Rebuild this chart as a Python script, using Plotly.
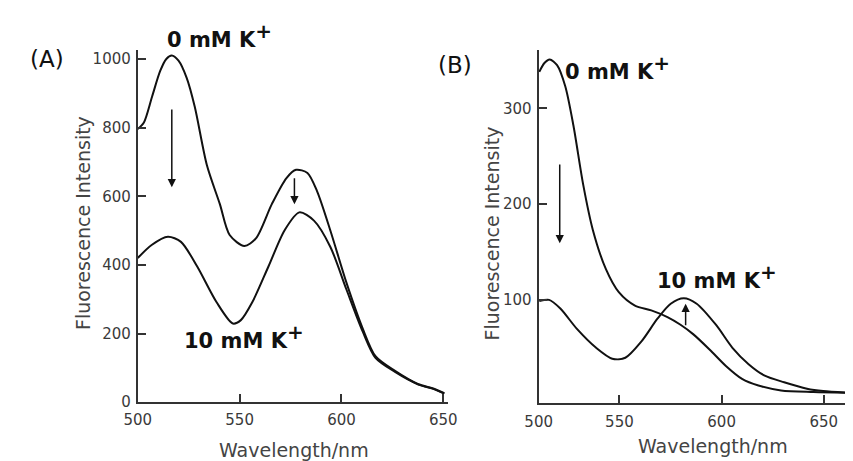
import plotly.graph_objects as go

W, H = 853, 461

# ---------------- Panel A data ----------------
a_wl_0 = [500, 503, 507, 511, 514, 516.7, 520, 524, 528, 533.9, 540.3, 545.1, 552.3, 558, 565.8,
          573, 577.7, 583.3, 588, 594.5, 602.4, 610.4, 616.7, 626.3, 637.5, 645.4, 650.5]
a_int_0 = [796, 815, 890, 965, 1000, 1010, 995, 945, 860, 691, 577, 487, 455, 477, 577,
           653, 677, 668, 615, 501, 349, 215, 134, 91, 53, 39, 26]
a_wl_10 = [500, 506.8, 514.8, 521.2, 529.1, 538.7, 546.7, 550.6, 556.2, 564.2, 572.1, 579.3, 586.5,
           594.5, 602.4, 610.4, 616.7, 626.3, 637.5, 645.4, 650.5]
a_int_10 = [420, 458, 482, 467, 396, 291, 229, 239, 291, 396, 501, 553, 529,
            453, 329, 206, 129, 88, 52, 38, 25]

# ---------------- Panel B data ----------------
b_wl_0 = [510.8, 513.2, 515.9, 519.5, 523.5, 527.5, 532.3, 537, 543.4, 549.7, 557.6, 565.6, 573.5,
          579.9, 586.2, 594.2, 602.1, 610, 618, 629.1, 645, 663.5]
b_int_0 = [338, 347, 351, 345, 323, 282, 220, 173, 132, 108, 94, 89, 82,
           74, 64, 48, 31, 17.5, 10.6, 5.5, 3.8, 2.8]
b_wl_10 = [510.8, 515.6, 521.1, 529.1, 538.6, 546.5, 552.9, 560.8, 568.7, 575.1, 581.5, 587.8, 597.3,
           605.3, 613.2, 621.1, 630.6, 641.8, 649.7, 663.5]
b_int_10 = [98.7, 100, 91, 70, 50, 38.6, 39.6, 56.7, 80.6, 96, 101.7, 96, 73.8,
            50, 32.9, 20.9, 14, 7.3, 4.8, 2.8]

a_xticks = [500, 550, 600, 650]
a_yticks = [0, 200, 400, 600, 800, 1000]
b_xtickvals = [510.5, 550, 600, 650]
b_xticktext = ["500", "550", "600", "650"]
b_yticks = [100, 200, 300]

LINE = dict(color="#111111", width=2, shape="spline", smoothing=0.8)

fig = go.Figure()
fig.add_trace(go.Scatter(x=a_wl_0, y=a_int_0, mode="lines", line=LINE, xaxis="x", yaxis="y", showlegend=False))
fig.add_trace(go.Scatter(x=a_wl_10, y=a_int_10, mode="lines", line=LINE, xaxis="x", yaxis="y", showlegend=False))
fig.add_trace(go.Scatter(x=b_wl_0, y=b_int_0, mode="lines", line=LINE, xaxis="x2", yaxis="y2", showlegend=False))
fig.add_trace(go.Scatter(x=b_wl_10, y=b_int_10, mode="lines", line=LINE, xaxis="x2", yaxis="y2", showlegend=False))


def px(x):
    return x / W


def py(y):
    return 1 - y / H


TICKFONT = dict(family="DejaVu Sans", size=15, color="#3a3a3a")
axis_common = dict(showline=True, linecolor="#333333", linewidth=2, showgrid=False, zeroline=False,
                   ticks="inside", ticklen=8, tickwidth=1.5, tickcolor="#333333", tickfont=TICKFONT)

fig.update_layout(
    width=W, height=H,
    margin=dict(l=0, r=0, t=0, b=0),
    paper_bgcolor="white", plot_bgcolor="white",
    xaxis=dict(domain=[px(119), px(438)], range=[500, 652.4], tickvals=a_xticks, anchor="y",
               ticklabelstandoff=3, **axis_common),
    yaxis=dict(domain=[py(402), py(43)], range=[0, 1025.7], tickvals=a_yticks, anchor="x",
               ticklabelstandoff=2, **axis_common),
    xaxis2=dict(domain=[px(531), 1.0], range=[510.5, 663.8], tickvals=b_xtickvals, ticktext=b_xticktext,
                anchor="y2", ticklabelstandoff=4, **axis_common),
    yaxis2=dict(domain=[py(403), py(43)], range=[-7.8, 360.7], tickvals=b_yticks, anchor="x2",
                ticklabelstandoff=2, **axis_common),
)

TITLEFONT = dict(family="DejaVu Sans", size=19, color="#444444")
LABELFONT = dict(family="DejaVu Sans", size=21, color="#111111")
PANELFONT = dict(family="DejaVu Sans", size=23, color="#111111")
SUP = "<sup><span style='font-size:20px'>+</span></sup>"

ann = []
# axis titles
ann.append(dict(text="Fluorescence Intensity", x=px(62), y=py(219), xref="paper", yref="paper",
                textangle=-90, showarrow=False, font=TITLEFONT, xanchor="center", yanchor="middle"))
ann.append(dict(text="Fluorescence Intensity", x=px(483), y=py(230), xref="paper", yref="paper",
                textangle=-90, showarrow=False, font=TITLEFONT, xanchor="center", yanchor="middle"))
ann.append(dict(text="Wavelength/nm", x=px(280), y=py(451), xref="paper", yref="paper",
                showarrow=False, font=TITLEFONT, xanchor="center", yanchor="middle"))
ann.append(dict(text="Wavelength/nm", x=px(710), y=py(447), xref="paper", yref="paper",
                showarrow=False, font=TITLEFONT, xanchor="center", yanchor="middle"))
# panel labels
ann.append(dict(text="(A)", x=px(26), y=py(52), xref="paper", yref="paper",
                showarrow=False, font=PANELFONT, xanchor="center", yanchor="middle"))
ann.append(dict(text="(B)", x=px(445), y=py(58), xref="paper", yref="paper",
                showarrow=False, font=PANELFONT, xanchor="center", yanchor="middle"))
# concentration labels
ann.append(dict(text="<b>0 mM K" + SUP + "</b>", x=px(203), y=py(28), xref="paper", yref="paper",
                showarrow=False, font=LABELFONT, xanchor="center", yanchor="middle"))
ann.append(dict(text="<b>10 mM K" + SUP + "</b>", x=px(228), y=py(335), xref="paper", yref="paper",
                showarrow=False, font=LABELFONT, xanchor="center", yanchor="middle"))
ann.append(dict(text="<b>0 mM K" + SUP + "</b>", x=px(612), y=py(61), xref="paper", yref="paper",
                showarrow=False, font=LABELFONT, xanchor="center", yanchor="middle"))
ann.append(dict(text="<b>10 mM K" + SUP + "</b>", x=px(714), y=py(274), xref="paper", yref="paper",
                showarrow=False, font=LABELFONT, xanchor="center", yanchor="middle"))

# arrows (data coordinates)
ARROW = dict(showarrow=True, arrowhead=2, arrowsize=1.1, arrowwidth=1.5, arrowcolor="#111111", text="")
ann.append(dict(x=516.7, y=626, ax=516.7, ay=857, xref="x", yref="y", axref="x", ayref="y", **ARROW))
ann.append(dict(x=576.9, y=577, ax=576.9, ay=657, xref="x", yref="y", axref="x", ayref="y", **ARROW))
ann.append(dict(x=520.8, y=159, ax=520.8, ay=243, xref="x2", yref="y2", axref="x2", ayref="y2", **ARROW))
ann.append(dict(x=582.4, y=96, ax=582.4, ay=72, xref="x2", yref="y2", axref="x2", ayref="y2", **ARROW))

fig.update_layout(annotations=ann)

fig.write_html("out.html")
